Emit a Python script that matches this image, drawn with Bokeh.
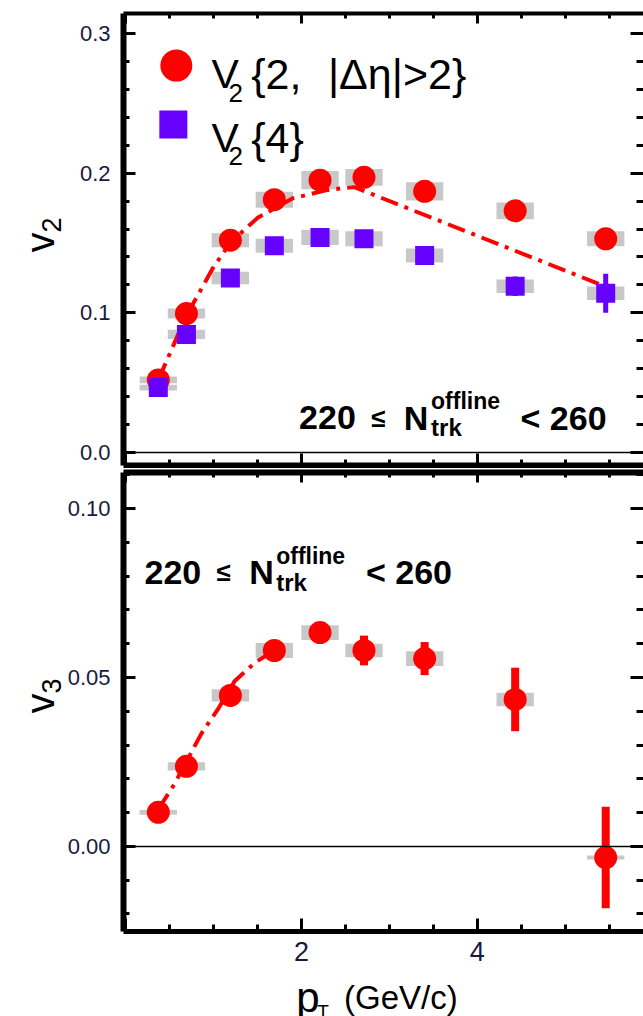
import math
from bokeh.plotting import figure
from bokeh.models import (Range1d, LinearAxis, SingleIntervalTicker, PrintfTickFormatter,
                          Label, Span, ColumnDataSource)
from bokeh.layouts import column, row
from bokeh.embed import file_html
from bokeh.resources import INLINE

# ---------------- data ----------------
pt = [0.37, 0.69, 1.19, 1.69, 2.21, 2.71, 3.40, 4.43, 5.46]

v2_2 = [0.052, 0.0995, 0.152, 0.181, 0.195, 0.197, 0.187, 0.173, 0.153]
v2_2_stat = [0.0005, 0.0008, 0.001, 0.001, 0.001, 0.0015, 0.002, 0.003, 0.004]
v2_2_sys = [0.0025, 0.0036, 0.005, 0.0057, 0.0065, 0.006, 0.0065, 0.006, 0.0054]

v2_4 = [0.0465, 0.0845, 0.125, 0.148, 0.154, 0.153, 0.141, 0.119, 0.114]
v2_4_stat = [0.001, 0.001, 0.001, 0.002, 0.002, 0.002, 0.003, 0.007, 0.014]
v2_4_sys = [0.0021, 0.0033, 0.0045, 0.005, 0.0054, 0.0054, 0.005, 0.0048, 0.0048]

v3 = [0.0101, 0.0237, 0.0447, 0.058, 0.0633, 0.058, 0.0556, 0.0435, -0.0033]
v3_stat = [0.0005, 0.0008, 0.001, 0.0015, 0.002, 0.0044, 0.0049, 0.0094, 0.015]
v3_sys = [0.0007, 0.0012, 0.0018, 0.0022, 0.0022, 0.002, 0.0022, 0.002, 0.0006]

hydro_pt2 = [0.37, 0.69, 1.0, 1.2, 1.5, 1.9, 2.3, 2.6, 5.45]
hydro_v2 = [0.052, 0.098, 0.133, 0.151, 0.168, 0.182, 0.188, 0.190, 0.119]
hydro_pt3 = [0.37, 0.55, 0.86, 1.06, 1.24, 1.47, 1.69]
hydro_v3 = [0.011, 0.0183, 0.0334, 0.0411, 0.049, 0.0544, 0.058]

legend_labels = [("V", "2", "{2,", "|Δη|>2}"), ("V", "2", "{4}", "")]
mult_text = ["220", "≤", "N", "offline", "trk", "< 260"]
x_tick_hidden = {0: ""}

# ---------------- style ----------------
FONT = "Liberation Sans"
TICK_COLOR = "#1a1a40"
RED = "#ff0000"
PURPLE = "#6600ff"
GRAY = "#c8c8c8"
BOX_W = 0.425
DASH = "18 7 4 7"

LEFT_W = 64          # strip holding the rotated y titles
MAIN_W = 643 - LEFT_W
BORDER_L = 122 - LEFT_W
x_range = Range1d(-0.026, 5.89)


def style_axis(ax, interval, minor, fmt=None, labels=False, label_size="22px",
               standoff=10, line_w=6, line_color="black", major_len=12, minor_len=6):
    ax.ticker = SingleIntervalTicker(interval=interval, num_minor_ticks=minor)
    if fmt:
        ax.formatter = PrintfTickFormatter(format=fmt)
    ax.axis_line_width = line_w
    ax.axis_line_color = line_color
    ax.major_tick_line_width = 3
    ax.minor_tick_line_width = 3
    ax.major_tick_in = major_len
    ax.major_tick_out = 0
    ax.minor_tick_in = minor_len
    ax.minor_tick_out = 0
    if labels:
        ax.major_label_text_font = FONT
        ax.major_label_text_font_size = label_size
        ax.major_label_text_color = TICK_COLOR
        ax.major_label_standoff = standoff
    else:
        ax.major_label_text_font_size = "1px"
        ax.major_label_text_color = None
        ax.major_label_standoff = 0


def add_text(p, x, y, text, size, bold=False, angle=0.0, color="black", align="left"):
    p.add_layout(Label(x=x, y=y, text=text, text_font=FONT, text_font_size=f"{size}px",
                       text_font_style="bold" if bold else "normal", angle=angle,
                       text_color=color, text_align=align, text_baseline="alphabetic"))


def series_source(x, y, stat, sys):
    return ColumnDataSource(dict(
        x=x, y=y,
        lo=[a - b for a, b in zip(y, stat)], hi=[a + b for a, b in zip(y, stat)],
        sh=[2 * s for s in sys]))


def blank_fig(width, height, xr, yr, min_left=0):
    f = figure(width=width, height=height, x_range=xr, y_range=yr,
               x_axis_type=None, y_axis_type=None, output_backend="svg",
               toolbar_location=None, min_border=0, min_border_left=min_left)
    f.grid.visible = False
    f.outline_line_color = None
    return f


# ---------------- top panel: v2 ----------------
p1 = figure(width=MAIN_W, height=468, x_range=x_range, y_range=Range1d(-0.0093, 0.3143),
            output_backend="svg", toolbar_location=None,
            min_border_left=BORDER_L, min_border_right=0, min_border_top=13, min_border_bottom=3)
p1.grid.visible = False
p1.outline_line_color = None
style_axis(p1.xaxis[0], 2, 4, line_w=6)
style_axis(p1.yaxis[0], 0.1, 5, "%.1f", labels=True, label_size="22px", standoff=13, line_w=6)
ax_top = LinearAxis()
style_axis(ax_top, 2, 4, line_w=4, major_len=10, minor_len=5)
p1.add_layout(ax_top, "above")
ax_r1 = LinearAxis()
style_axis(ax_r1, 0.1, 5, line_color=None, major_len=13, minor_len=7)
p1.add_layout(ax_r1, "right")
p1.add_layout(Span(location=0, dimension="width", line_color="black", line_width=1.5))

s22 = series_source(pt, v2_2, v2_2_stat, v2_2_sys)
s24 = series_source(pt, v2_4, v2_4_stat, v2_4_sys)
p1.rect(x="x", y="y", width=BOX_W, height="sh", source=s22, fill_color=GRAY, line_color=None)
p1.rect(x="x", y="y", width=BOX_W, height="sh", source=s24, fill_color=GRAY, line_color=None)
p1.line(hydro_pt2, hydro_v2, line_color=RED, line_width=4, line_dash=DASH)
p1.segment(x0="x", y0="lo", x1="x", y1="hi", source=s22, line_color=RED, line_width=7)
p1.scatter(x="x", y="y", source=s22, marker="circle", size=23, fill_color=RED, line_color=None)
p1.segment(x0="x", y0="lo", x1="x", y1="hi", source=s24, line_color=PURPLE, line_width=5)
p1.scatter(x="x", y="y", source=s24, marker="square", size=19, fill_color=PURPLE, line_color=None)

# legend
p1.scatter(x=[0.575], y=[0.277], marker="circle", size=32, fill_color=RED, line_color=None)
p1.scatter(x=[0.541], y=[0.2348], marker="square", size=28, fill_color=PURPLE, line_color=None)
for (v, sub, a, b), yb, ys in zip(legend_labels, [0.2713, 0.2255], [0.2577, 0.2126]):
    add_text(p1, 0.975, yb, v, 41)
    add_text(p1, 1.168, ys, sub, 26)
    add_text(p1, 1.427, yb, a, 43)
    if b:
        add_text(p1, 2.30, yb, b, 43)

# multiplicity annotation (top)
add_text(p1, 1.972, 0.02505, mult_text[0], 34, bold=True)
add_text(p1, 2.789, 0.02505, mult_text[1], 26, bold=True)
add_text(p1, 3.163, 0.02505, mult_text[2], 34, bold=True)
add_text(p1, 3.473, 0.0372, mult_text[3], 23, bold=True)
add_text(p1, 3.473, 0.0179, mult_text[4], 24, bold=True)
add_text(p1, 4.491, 0.02505, mult_text[5], 34, bold=True)

# ---------------- bottom panel: v3 ----------------
p2 = figure(width=MAIN_W, height=507, x_range=x_range, y_range=Range1d(-0.0252, 0.1107),
            output_backend="svg", toolbar_location=None,
            min_border_left=BORDER_L, min_border_right=0, min_border_top=4, min_border_bottom=44)
p2.grid.visible = False
p2.outline_line_color = None
style_axis(p2.xaxis[0], 2, 4, labels=True, label_size="27px", standoff=10, line_w=5,
           major_len=13, minor_len=7)
p2.xaxis[0].major_label_overrides = x_tick_hidden
style_axis(p2.yaxis[0], 0.05, 5, "%.2f", labels=True, label_size="22px", standoff=13, line_w=6)
ax_top2 = LinearAxis()
style_axis(ax_top2, 2, 4, line_w=6, major_len=10, minor_len=5)
p2.add_layout(ax_top2, "above")
ax_r2 = LinearAxis()
style_axis(ax_r2, 0.05, 5, line_color=None, major_len=13, minor_len=7)
p2.add_layout(ax_r2, "right")
p2.add_layout(Span(location=0, dimension="width", line_color="black", line_width=1.5))

s3 = series_source(pt, v3, v3_stat, v3_sys)
p2.rect(x="x", y="y", width=BOX_W, height="sh", source=s3, fill_color=GRAY, line_color=None)
p2.line(hydro_pt3, hydro_v3, line_color=RED, line_width=4, line_dash=DASH)
p2.segment(x0="x", y0="lo", x1="x", y1="hi", source=s3, line_color=RED, line_width=8)
p2.scatter(x="x", y="y", source=s3, marker="circle", size=23, fill_color=RED, line_color=None)

# multiplicity annotation (bottom)
add_text(p2, 0.213, 0.0811, mult_text[0], 34, bold=True)
add_text(p2, 1.03, 0.0811, mult_text[1], 26, bold=True)
add_text(p2, 1.405, 0.0811, mult_text[2], 34, bold=True)
add_text(p2, 1.711, 0.0861, mult_text[3], 23, bold=True)
add_text(p2, 1.711, 0.0781, mult_text[4], 24, bold=True)
add_text(p2, 2.732, 0.0811, mult_text[5], 34, bold=True)

# ---------------- axis titles (page-pixel strips) ----------------
xlab = blank_fig(MAIN_W, 41, Range1d(122, 643), Range1d(1016, 975), min_left=BORDER_L)
add_text(xlab, 295, 997, "p", 42)
add_text(xlab, 316, 1011, "T", 19)
add_text(xlab, 343, 997, "(GeV/c)", 33)

ylab = blank_fig(LEFT_W, 1016, Range1d(0, LEFT_W), Range1d(1016, 0))
add_text(ylab, 39, 252, "v", 40, angle=math.pi / 2)
add_text(ylab, 51, 232, "2", 27, angle=math.pi / 2)
add_text(ylab, 39, 713, "v", 40, angle=math.pi / 2)
add_text(ylab, 51, 693, "3", 27, angle=math.pi / 2)

layout = row(ylab, column(p1, p2, xlab, spacing=0), spacing=0)
open("out.html", "w").write(file_html(layout, INLINE))
